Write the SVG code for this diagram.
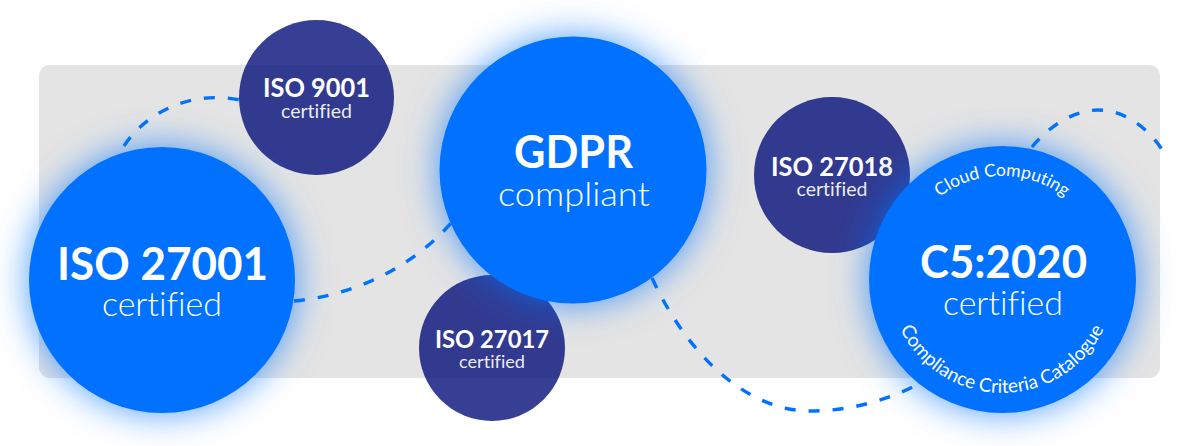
<svg xmlns="http://www.w3.org/2000/svg" width="1200" height="446" viewBox="0 0 1200 446">
<style>
text{font-family:"Lato","Noto Sans",sans-serif;fill:#fff;text-anchor:middle;font-variant-ligatures:none}
.h{font-weight:700}
.l{font-weight:300}
.s{font-weight:400;fill-opacity:.92}
.big{fill:#0072ff;filter:url(#glow)}
.dark{fill:#040f79;fill-opacity:.8}
.conn{fill:none;stroke:#0072ff;stroke-width:3.400;stroke-dasharray:11 13}
.arc{font-size:17.500px;font-weight:400}
</style>
<defs>
<filter id="glow" x="-35%" y="-35%" width="170%" height="170%"><feDropShadow dx="0" dy="0" stdDeviation="18" flood-color="#0072ff" flood-opacity=".7"/></filter>
<path id="arcTop" d="M898 280A104 104 0 0 1 1106 280"/>
<path id="arcBot" d="M889 280A113 113 0 0 0 1115 280"/>
</defs>
<rect id="panel" x="39" y="65" width="1121" height="313" rx="11" fill="#e4e4e4"/>
<g id="connectors">
<path class="conn" d="M124 146C146 112 192 90 240 100"/>
<path class="conn" d="M294 301C350 296 410 270 452 222"/>
<path class="conn" d="M652 278C690 360 750 411 810 411C850 411 890 400 922 382"/>
<path class="conn" d="M1032 147C1050 125 1075 110 1098 110C1125 110 1148 128 1163 151"/>
</g>
<g id="iso9001"><circle class="dark" cx="316.500" cy="97.500" r="77.500"/>
<text class="h" x="316.500" y="97" font-size="26" textLength="107" lengthAdjust="spacingAndGlyphs">ISO 9001</text>
<text class="s" x="316.500" y="118" font-size="19" textLength="71" lengthAdjust="spacingAndGlyphs">certified</text></g>
<g id="iso27018"><circle class="dark" cx="832" cy="175" r="78"/>
<text class="h" x="832" y="176" font-size="26" textLength="122" lengthAdjust="spacingAndGlyphs">ISO 27018</text>
<text class="s" x="832" y="196" font-size="19" textLength="71" lengthAdjust="spacingAndGlyphs">certified</text></g>
<g id="iso27017"><circle class="dark" cx="492" cy="348" r="73"/>
<text class="h" x="492" y="348" font-size="25" textLength="114" lengthAdjust="spacingAndGlyphs">ISO 27017</text>
<text class="s" x="492" y="368" font-size="18" textLength="66" lengthAdjust="spacingAndGlyphs">certified</text></g>
<g id="iso27001"><circle class="big" cx="162" cy="280" r="133"/>
<text class="h" x="162.500" y="280" font-size="46" textLength="211" lengthAdjust="spacingAndGlyphs">ISO 27001</text>
<text class="l" x="162" y="316" font-size="33" textLength="120" lengthAdjust="spacingAndGlyphs">certified</text></g>
<g id="gdpr"><circle class="big" cx="573" cy="170" r="133.500"/>
<text class="h" x="573.500" y="168" font-size="46" textLength="119" lengthAdjust="spacingAndGlyphs">GDPR</text>
<text class="l" x="574" y="206" font-size="33" textLength="152" lengthAdjust="spacingAndGlyphs">compliant</text></g>
<g id="c5"><circle class="big" cx="1002.500" cy="279.500" r="133.500"/>
<text class="h" x="1003.500" y="278" font-size="46" textLength="167" lengthAdjust="spacingAndGlyphs">C5:2020</text>
<text class="l" x="1003" y="315" font-size="33" textLength="120" lengthAdjust="spacingAndGlyphs">certified</text>
<text class="arc"><textPath href="#arcTop" startOffset="50%">Cloud Computing</textPath></text>
<text class="arc" style="font-size:19px"><textPath href="#arcBot" startOffset="50%">Compliance Criteria Catalogue</textPath></text></g>
</svg>
